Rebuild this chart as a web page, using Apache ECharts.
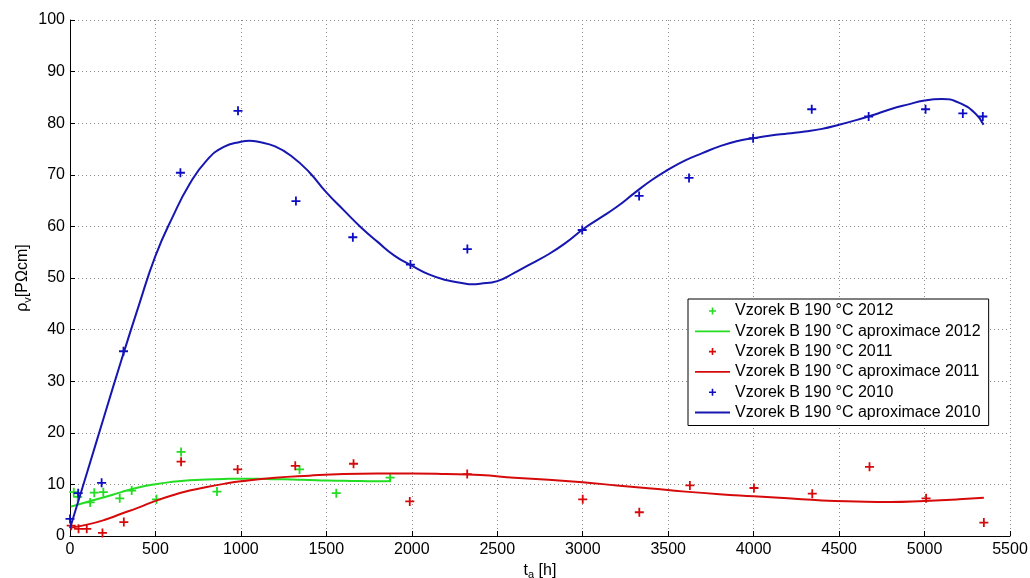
<!DOCTYPE html>
<html>
<head>
<meta charset="utf-8">
<script src="https://cdn.jsdelivr.net/npm/echarts@6/dist/echarts.min.js"></script>
<style>
html,body{margin:0;padding:0;background:#fff;}
#chart{width:1030px;height:578px;}
</style>
</head>
<body>
<div id="chart"></div>
<script>
// ---- data ----
var xTicks = { min: 0, max: 5500, interval: 500 };
var yTicks = { min: 0, max: 100, interval: 10 };

var names = [
  'Vzorek B 190 °C 2012',
  'Vzorek B 190 °C aproximace 2012',
  'Vzorek B 190 °C 2011',
  'Vzorek B 190 °C aproximace 2011',
  'Vzorek B 190 °C 2010',
  'Vzorek B 190 °C aproximace 2010'
];

var points2012 = [[22,8.5],[45,7.6],[118,6.5],[142,8.4],[195,8.5],[291,7.3],[361,8.8],[506,7.1],[650,16.3],[860,8.6],[1343,12.9],[1558,8.3],[1873,11.3]];
var fit2012 = [[5,5.7],[100,6.6],[200,7.5],[300,8.5],[400,9.4],[500,10.05],[600,10.5],[700,10.8],[800,10.95],[900,11.05],[1000,11.1],[1100,11.1],[1200,11.0],[1300,10.95],[1400,10.85],[1500,10.75],[1600,10.7],[1700,10.65],[1800,10.6],[1860,10.6],[1875,11.1]];

var points2011 = [[7,2.0],[50,1.4],[98,1.4],[190,0.6],[315,2.7],[650,14.4],[981,12.9],[1318,13.6],[1659,14.0],[1988,6.7],[2324,12.0],[3000,7.1],[3331,4.6],[3627,9.8],[4002,9.3],[4343,8.2],[4678,13.4],[5009,7.3],[5347,2.6]];
var fit2011 = [[0,1.6],[100,2.2],[200,3.1],[300,4.3],[400,5.5],[500,6.8],[600,7.9],[700,8.8],[800,9.5],[900,10.1],[1000,10.6],[1200,11.3],[1400,11.7],[1600,12.0],[1800,12.1],[2000,12.1],[2200,12.0],[2400,11.8],[2600,11.3],[2800,10.9],[3000,10.4],[3200,9.8],[3400,9.2],[3600,8.6],[3800,8.1],[4000,7.7],[4200,7.3],[4400,6.9],[4600,6.7],[4800,6.6],[5000,6.8],[5200,7.1],[5347,7.4]];

var points2010 = [[0,3.3],[48,8.3],[185,10.3],[313,35.8],[646,70.4],[983,82.4],[1322,64.9],[1655,57.9],[1992,52.6],[2325,55.6],[2997,59.3],[3330,65.9],[3622,69.4],[3997,77.1],[4340,82.7],[4673,81.3],[5006,82.7],[5224,81.9],[5341,81.3]];
var fit2010 = [[0,1.5],[100,12.3],[200,23.2],[300,34.0],[400,44.4],[500,54.3],[600,61.8],[700,68.2],[800,72.8],[900,75.4],[1000,76.4],[1050,76.6],[1100,76.4],[1200,75.5],[1300,73.5],[1400,70.5],[1500,66.6],[1600,63.2],[1700,59.9],[1800,57.0],[1900,54.3],[2000,52.4],[2100,50.7],[2200,49.6],[2300,49.0],[2350,48.8],[2400,48.9],[2500,49.4],[2600,51.0],[2700,52.8],[2800,54.6],[2900,56.8],[3000,59.4],[3100,61.6],[3200,63.8],[3300,66.4],[3400,68.9],[3500,71.0],[3600,72.8],[3700,74.2],[3800,75.5],[3900,76.5],[4000,77.1],[4100,77.6],[4200,78.0],[4300,78.4],[4400,78.9],[4500,79.7],[4600,80.6],[4700,81.6],[4800,82.7],[4900,83.6],[5000,84.4],[5100,84.7],[5200,84.0],[5300,81.8],[5345,79.7]];

var colors = { g: '#22dd22', r: '#d60a0a', b: '#0c0cc4', bLine: '#1616b0' };

// ---- chart ----
var plus = 'path://M4,0h2v4h4v2h-4v4h-2v-4h-4v-2h4z';
var plusLegend = 'path://M0,0M35,14M16.7,3.5h1.6v2.7h2.7v1.6h-2.7v2.7h-1.6v-2.7h-2.7v-1.6h2.7z';
var lineLegend = 'path://M0,0M35,14M0,6.1h35v1.8h-35z';
var font = 'Liberation Sans, Arial, Helvetica, sans-serif';

function scatter(name, data, color) {
  return { name: name, type: 'scatter', data: data, symbol: plus, symbolSize: 9,
    itemStyle: { color: color, opacity: 1 }, z: 3 };
}
function line(name, data, color) {
  return { name: name, type: 'line', data: data, smooth: 0.5, symbol: 'none',
    lineStyle: { color: color, width: 2 }, itemStyle: { color: color }, z: 4 };
}
function plain(v) { return String(v); }

var chart = echarts.init(document.getElementById('chart'), null, { renderer: 'canvas' });
chart.setOption({
  animation: false,
  backgroundColor: '#fff',
  textStyle: { fontFamily: font },
  grid: { left: 70, right: 20, top: 20, bottom: 42, containLabel: false, outerBoundsMode: 'none' },
  legend: {
    orient: 'vertical', left: 688, top: 299,
    padding: [4, 8, 5, 7], itemGap: 4.3, itemWidth: 35, itemHeight: 14,
    backgroundColor: '#fff', borderColor: '#000', borderWidth: 1, borderRadius: 0,
    textStyle: { fontFamily: font, fontSize: 16, color: '#000', lineHeight: 16 },
    data: [
      { name: names[0], icon: plusLegend },
      { name: names[1], icon: lineLegend },
      { name: names[2], icon: plusLegend },
      { name: names[3], icon: lineLegend },
      { name: names[4], icon: plusLegend },
      { name: names[5], icon: lineLegend }
    ]
  },
  xAxis: {
    type: 'value', min: xTicks.min, max: xTicks.max, interval: xTicks.interval,
    name: '{n|t}{s|a}{n| [h]}', nameLocation: 'middle', nameGap: 24,
    nameTextStyle: { rich: {
      n: { fontFamily: font, fontSize: 16, color: '#000' },
      s: { fontFamily: font, fontSize: 11, color: '#000', verticalAlign: 'bottom', padding: [9, 0, 0, 0] }
    } },
    axisLine: { onZero: false, lineStyle: { color: '#000', width: 1 } },
    axisTick: { inside: true, length: 5, lineStyle: { color: '#000' } },
    axisLabel: { fontFamily: font, fontSize: 16, color: '#000', margin: 6, formatter: plain },
    splitLine: { show: true, lineStyle: { color: '#8a8a8a', width: 1, type: [1, 3] } }
  },
  yAxis: {
    type: 'value', min: yTicks.min, max: yTicks.max, interval: yTicks.interval,
    name: '{n|ρ}{s|v}{n|[PΩcm]}', nameLocation: 'middle', nameGap: 37, nameRotate: 90,
    nameMoveOverlap: false,
    nameTextStyle: { rich: {
      n: { fontFamily: font, fontSize: 16, color: '#000' },
      s: { fontFamily: font, fontSize: 11, color: '#000', verticalAlign: 'bottom', padding: [9, 0, 0, 0] }
    } },
    axisLine: { onZero: false, lineStyle: { color: '#000', width: 1 } },
    axisTick: { inside: true, length: 5, lineStyle: { color: '#000' } },
    axisLabel: { fontFamily: font, fontSize: 16, color: '#000', margin: 5, formatter: plain },
    splitLine: { show: true, lineStyle: { color: '#8a8a8a', width: 1, type: [1, 3] } }
  },
  series: [
    scatter(names[0], points2012, colors.g),
    line(names[1], fit2012, colors.g),
    scatter(names[2], points2011, colors.r),
    line(names[3], fit2011, colors.r),
    scatter(names[4], points2010, colors.b),
    line(names[5], fit2010, colors.bLine)
  ]
});
</script>
</body>
</html>
